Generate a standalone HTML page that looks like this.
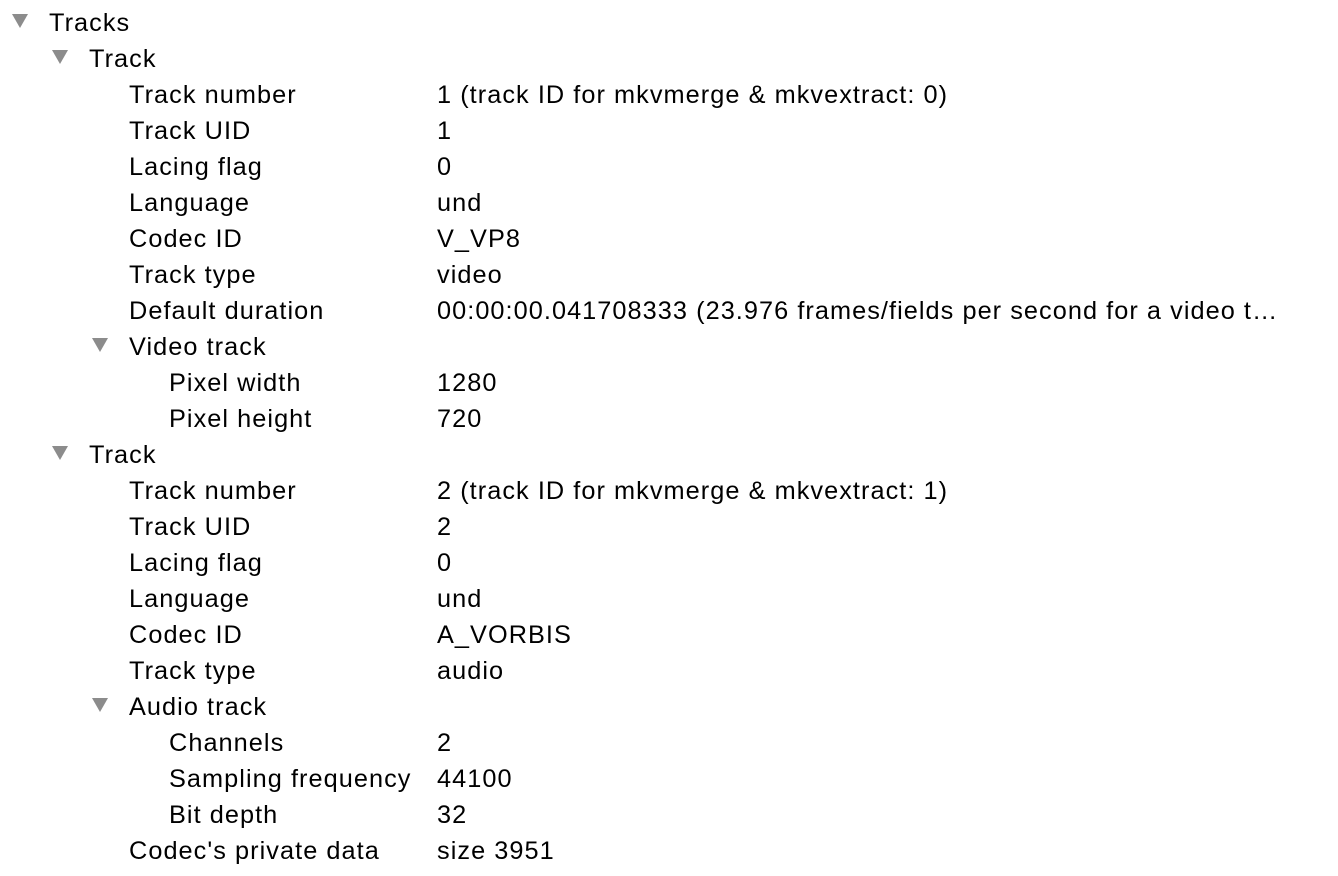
<!DOCTYPE html>
<html><head><meta charset="utf-8"><style>
body{margin:0;width:1338px;height:876px;background:#fff;overflow:hidden;position:relative;font-family:"Liberation Sans",sans-serif;font-size:25.3px;letter-spacing:1.05px;color:#000}
.r{position:absolute;height:36px;line-height:38px;white-space:nowrap}
.t{position:absolute;width:0;height:0;border-left:8.5px solid transparent;border-right:8.5px solid transparent;border-top:14px solid #8c8c8c}
</style></head><body>
<div class="t" style="left:12px;top:14px"></div><div class="r" style="left:49px;top:4px">Tracks</div>
<div class="t" style="left:52px;top:50px"></div><div class="r" style="left:89px;top:40px">Track</div>
<div class="r" style="left:129px;top:76px">Track number</div><div class="r" style="left:437px;top:76px">1 (track ID for mkvmerge &amp; mkvextract: 0)</div>
<div class="r" style="left:129px;top:112px">Track UID</div><div class="r" style="left:437px;top:112px">1</div>
<div class="r" style="left:129px;top:148px">Lacing flag</div><div class="r" style="left:437px;top:148px">0</div>
<div class="r" style="left:129px;top:184px">Language</div><div class="r" style="left:437px;top:184px">und</div>
<div class="r" style="left:129px;top:220px">Codec ID</div><div class="r" style="left:437px;top:220px">V_VP8</div>
<div class="r" style="left:129px;top:256px">Track type</div><div class="r" style="left:437px;top:256px">video</div>
<div class="r" style="left:129px;top:292px">Default duration</div><div class="r" style="left:437px;top:292px;width:848px;overflow:hidden;text-overflow:ellipsis">00:00:00.041708333 (23.976 frames/fields per second for a video track)</div>
<div class="t" style="left:92px;top:338px"></div><div class="r" style="left:129px;top:328px">Video track</div>
<div class="r" style="left:169px;top:364px">Pixel width</div><div class="r" style="left:437px;top:364px">1280</div>
<div class="r" style="left:169px;top:400px">Pixel height</div><div class="r" style="left:437px;top:400px">720</div>
<div class="t" style="left:52px;top:446px"></div><div class="r" style="left:89px;top:436px">Track</div>
<div class="r" style="left:129px;top:472px">Track number</div><div class="r" style="left:437px;top:472px">2 (track ID for mkvmerge &amp; mkvextract: 1)</div>
<div class="r" style="left:129px;top:508px">Track UID</div><div class="r" style="left:437px;top:508px">2</div>
<div class="r" style="left:129px;top:544px">Lacing flag</div><div class="r" style="left:437px;top:544px">0</div>
<div class="r" style="left:129px;top:580px">Language</div><div class="r" style="left:437px;top:580px">und</div>
<div class="r" style="left:129px;top:616px">Codec ID</div><div class="r" style="left:437px;top:616px">A_VORBIS</div>
<div class="r" style="left:129px;top:652px">Track type</div><div class="r" style="left:437px;top:652px">audio</div>
<div class="t" style="left:92px;top:698px"></div><div class="r" style="left:129px;top:688px">Audio track</div>
<div class="r" style="left:169px;top:724px">Channels</div><div class="r" style="left:437px;top:724px">2</div>
<div class="r" style="left:169px;top:760px">Sampling frequency</div><div class="r" style="left:437px;top:760px">44100</div>
<div class="r" style="left:169px;top:796px">Bit depth</div><div class="r" style="left:437px;top:796px">32</div>
<div class="r" style="left:129px;top:832px">Codec's private data</div><div class="r" style="left:437px;top:832px">size 3951</div>
</body></html>
